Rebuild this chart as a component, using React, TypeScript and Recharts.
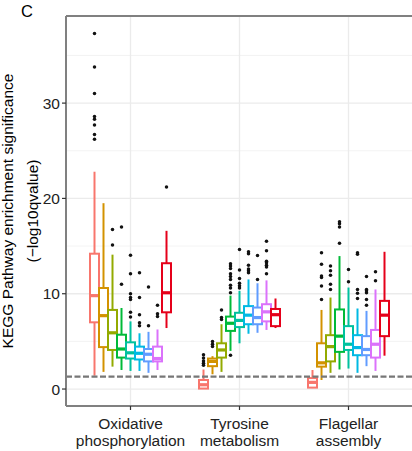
import React from "react";
import { BarChart, Bar, XAxis, YAxis, CartesianGrid, ReferenceLine } from "recharts";

const categories = ["Oxidative phosphorylation", "Tyrosine metabolism", "Flagellar assembly"];
const groupNames = ["Group 1", "Group 2", "Group 3", "Group 4", "Group 5", "Group 6", "Group 7", "Group 8", "Group 9"];
const groupColors = ["#F8766D", "#D39200", "#93AA00", "#00BA38", "#00C19F", "#00B9E3", "#619CFF", "#DB72FB", "#E5001A"];

// [lower whisker, Q1, median, Q3, upper whisker] for each group
const oxidativeStats = [
  [1.4, 7.0, 9.8, 14.2, 22.8],
  [1.8, 4.4, 7.7, 10.6, 19.5],
  [2.35, 4.1, 5.9, 8.3, 14.1],
  [2.0, 3.3, 4.2, 5.7, 8.5],
  [1.9, 3.2, 3.8, 4.9, 7.1],
  [1.9, 3.1, 3.75, 4.45, 5.85],
  [1.7, 2.9, 3.65, 4.2, 6.0],
  [2.0, 2.9, 3.2, 4.45, 6.25],
  [6.4, 8.05, 10.1, 13.2, 16.6],
];
const tyrosineStats = [
  [0.02, 0.05, 0.45, 0.95, 2.05],
  [1.55, 2.4, 2.9, 3.2, 3.45],
  [1.8, 3.3, 4.1, 4.8, 6.8],
  [4.0, 6.1, 6.9, 7.6, 9.8],
  [4.8, 6.5, 7.2, 8.0, 10.3],
  [5.8, 6.8, 7.75, 8.7, 11.5],
  [5.9, 6.8, 7.5, 8.55, 11.1],
  [6.2, 7.1, 8.1, 8.9, 11.4],
  [6.4, 6.6, 7.8, 8.4, 9.5],
];
const flagellarStats = [
  [0.1, 0.15, 0.7, 1.15, 2.0],
  [0.95, 2.35, 2.75, 4.8, 8.3],
  [1.7, 2.9, 4.45, 5.65, 9.6],
  [2.05, 3.9, 5.55, 8.35, 13.95],
  [2.15, 4.1, 4.7, 6.6, 10.65],
  [1.7, 3.55, 4.35, 5.65, 8.45],
  [2.4, 3.55, 4.15, 5.55, 8.2],
  [1.9, 3.3, 4.7, 6.2, 10.45],
  [3.5, 5.55, 7.75, 9.25, 14.4],
];

const oxidativeOutliers = [
  [37.3, 33.8, 31.0, 28.6, 28.3, 27.7, 26.7, 26.2],
  [],
  [16.75, 15.1],
  [17.0, 11.0],
  [14.05, 12.1, 10.0, 9.6, 9.4, 8.05, 7.55],
  [12.2, 9.6, 7.8, 6.95, 6.65],
  [10.7, 6.65],
  [8.8, 7.9, 7.6],
  [21.2],
];
const tyrosineOutliers = [
  [3.6, 3.25, 2.95, 2.7, 2.5],
  [5.0, 4.7, 4.45],
  [8.3, 7.5, 7.3],
  [13.15, 12.9, 12.65, 12.1, 11.8, 11.5, 10.9, 10.6, 10.1, 3.55],
  [14.65, 12.5, 11.6, 11.1, 10.85, 10.6],
  [14.4, 14.2, 13.0, 12.6, 12.4, 12.2],
  [14.0, 11.5],
  [15.5, 14.5, 13.4, 13.25, 13.0, 12.8, 12.1],
  [],
];
const flagellarOutliers = [
  [],
  [14.3, 13.1, 11.85, 11.7, 10.8, 9.4],
  [12.9, 12.4, 11.95, 11.0, 10.45],
  [17.55, 17.35, 17.0, 15.3],
  [12.55, 11.25],
  [14.3, 14.15, 10.45, 10.05, 9.5],
  [11.8, 10.45, 10.3, 10.1, 9.4, 8.8],
  [12.3, 11.35],
  [],
];

const yTicks = [0, 10, 20, 30];
const minorYTicks = [5, 15, 25, 35];
const significanceThreshold = 1.3;
const yDomain = [-1.78, 39.14];

const statsByCategory = [oxidativeStats, tyrosineStats, flagellarStats];
const outliersByCategory = [oxidativeOutliers, tyrosineOutliers, flagellarOutliers];

const data = categories.map((category, c) => {
  const row: any = { category };
  groupNames.forEach((_, g) => {
    const s = statsByCategory[c][g];
    row[`range${g}`] = [s[0], s[4]];
    row[`stats${g}`] = s;
    row[`outliers${g}`] = outliersByCategory[c][g];
  });
  return row;
});

const FONT = "'Liberation Sans', Arial, Helvetica, sans-serif";

const makeBoxShape = (g: number) => (props: any) => {
  const { x, y, width, height, index } = props;
  const payload = props.payload && props.payload[`stats${g}`] ? props.payload : data[index];
  const stats: number[] = payload[`stats${g}`];
  const outs: number[] = payload[`outliers${g}`];
  const lo = stats[0];
  const hi = stats[4];
  const top = Math.min(y, y + height);
  const bottom = Math.max(y, y + height);
  const py = (v: number) => bottom - ((v - lo) / (hi - lo)) * (bottom - top);
  const color = groupColors[g];
  const cx = x + width / 2;
  const q1 = py(stats[1]);
  const med = py(stats[2]);
  const q3 = py(stats[3]);
  return (
    <g>
      {outs.map((o, k) => (
        <circle key={k} cx={cx} cy={py(o)} r={1.75} fill="#111111" />
      ))}
      <line x1={cx} x2={cx} y1={py(hi)} y2={q3} stroke={color} strokeWidth={2} />
      <line x1={cx} x2={cx} y1={q1} y2={py(lo)} stroke={color} strokeWidth={2} />
      <rect x={x} y={q3} width={width} height={Math.max(q1 - q3, 0.1)} fill="#ffffff" stroke={color} strokeWidth={2} />
      <line x1={x} x2={x + width} y1={med} y2={med} stroke={color} strokeWidth={3.2} />
    </g>
  );
};

const CategoryTick = (props: any) => {
  const { x, y, payload } = props;
  const words = String(payload.value).split(" ");
  return (
    <g>
      <text x={x} y={y + 17} textAnchor="middle" fontSize={15.5} fontFamily={FONT} fill="#222222">
        {words[0]}
      </text>
      <text x={x} y={y + 34} textAnchor="middle" fontSize={15.5} fontFamily={FONT} fill="#222222">
        {words.slice(1).join(" ")}
      </text>
    </g>
  );
};

export default function App() {
  return (
    <div style={{ position: "absolute", left: 0, top: 0, width: 412, height: 451, overflow: "hidden", background: "#ffffff" }}>
      <div style={{ position: "absolute", left: 0, top: 0, width: 440, height: 451 }}>
        <BarChart
          width={430}
          height={451}
          data={data}
          margin={{ top: 16, right: 4, bottom: 0, left: 0 }}
          barSize={9}
          barGap={0}
        >
          <CartesianGrid horizontal vertical={false} horizontalValues={minorYTicks} syncWithTicks stroke="#F0F0F0" strokeWidth={0.8} />
          <CartesianGrid
            horizontal
            vertical
            horizontalValues={yTicks}
            verticalValues={categories}
            syncWithTicks
            stroke="#EBEBEB"
            strokeWidth={1.3}
          />
          <XAxis
            dataKey="category"
            type="category"
            height={45}
            padding={{ left: 10, right: 23 }}
            axisLine={{ stroke: "#808080", strokeWidth: 2 }}
            tickLine={{ stroke: "#333333", strokeWidth: 1.2 }}
            tickSize={4}
            tickMargin={2}
            tick={<CategoryTick />}
            interval={0}
          />
          <YAxis
            type="number"
            domain={yDomain}
            allowDataOverflow
            ticks={yTicks}
            width={66}
            axisLine={{ stroke: "#808080", strokeWidth: 2 }}
            tickLine={{ stroke: "#333333", strokeWidth: 1.2 }}
            tickSize={4}
            tickMargin={2}
            tick={{ fontSize: 15.5, fontFamily: FONT, fill: "#222222" }}
          />
          {groupNames.map((name, g) => (
            <Bar
              key={name}
              name={name}
              dataKey={`range${g}`}
              fill={groupColors[g]}
              isAnimationActive={false}
              shape={makeBoxShape(g)}
            />
          ))}
          <ReferenceLine y={significanceThreshold} stroke="#777777" strokeWidth={2.2} strokeDasharray="6 2.5" />
          <ReferenceLine y={yDomain[1]} stroke="#808080" strokeWidth={2} ifOverflow="extendDomain" />
        </BarChart>
      </div>
      <svg
        width={412}
        height={451}
        style={{ position: "absolute", left: 0, top: 0, pointerEvents: "none" }}
      >
        <text x={21} y={16.7} fontSize={16.5} fontFamily={FONT} fill="#000000">
          C
        </text>
        <text x={12.8} y={211} textAnchor="middle" fontSize={15.5} fontFamily={FONT} fill="#000000" transform="rotate(-90 12.8 211)">
          KEGG Pathway enrichment significance
        </text>
        <text x={37.5} y={211} textAnchor="middle" fontSize={15.5} fontFamily={FONT} fill="#000000" transform="rotate(-90 37.5 211)">
          (−log10qvalue)
        </text>
      </svg>
    </div>
  );
}
